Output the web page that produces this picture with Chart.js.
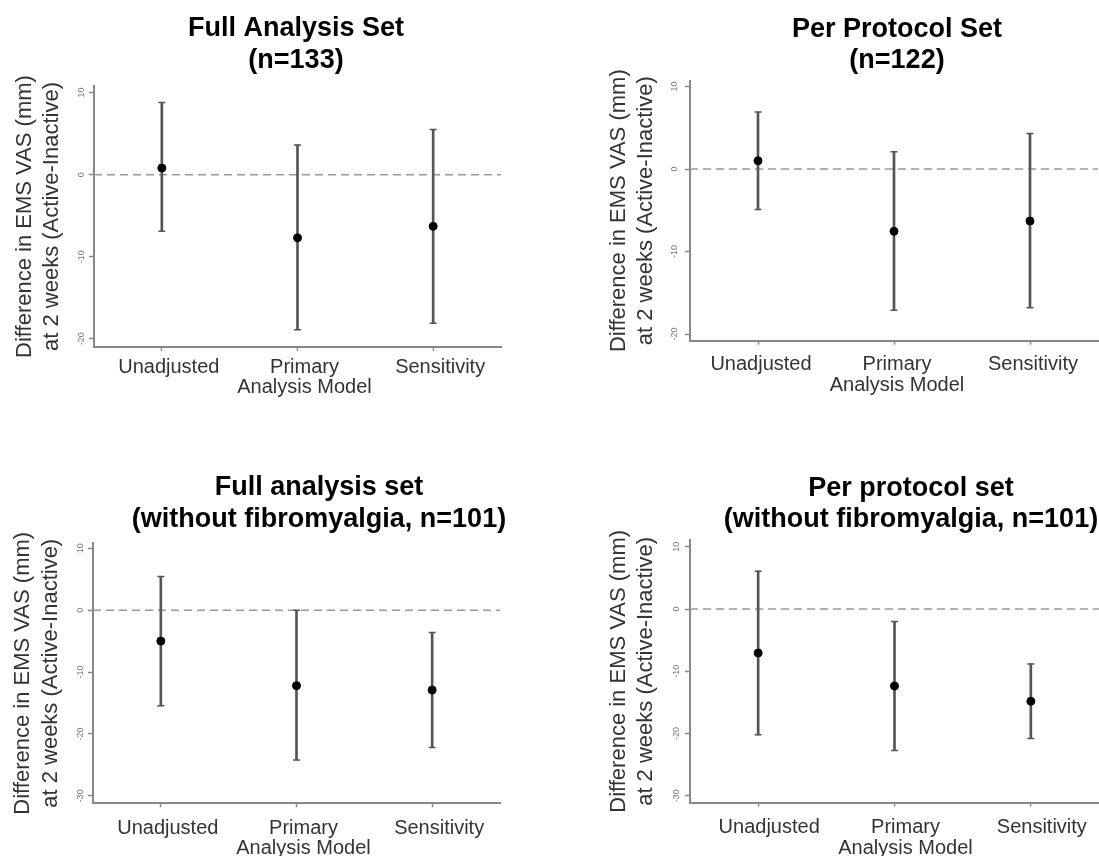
<!DOCTYPE html>
<html>
<head>
<meta charset="utf-8">
<script src="https://cdn.jsdelivr.net/npm/chart.js@4.4.1/dist/chart.umd.min.js"></script>
<style>
html, body { margin: 0; padding: 0; background: #fff; overflow: hidden; width: 1099px; height: 856px; position: relative; }
canvas { position: absolute; }
</style>
</head>
<body>
<canvas id="c1"></canvas>
<canvas id="c2"></canvas>
<canvas id="c3"></canvas>
<canvas id="c4"></canvas>
<script>
// ---------- data ----------
const categories = ['Unadjusted', ['Primary', 'Analysis Model'], 'Sensitivity'];
const yAxisTitle = ['Difference in EMS VAS (mm)', 'at 2 weeks (Active-Inactive)'];

const titleFas = ['Full Analysis Set', '(n=133)'];
const titlePps = ['Per Protocol Set', '(n=122)'];
const titleFasNoFm = ['Full analysis set', '(without fibromyalgia, n=101)'];
const titlePpsNoFm = ['Per protocol set', '(without fibromyalgia, n=101)'];

const fasEstimate = [0.8, -7.7, -6.3];
const fasLower    = [-6.9, -18.9, -18.1];
const fasUpper    = [8.8, 3.6, 5.5];

const ppsEstimate = [1.0, -7.55, -6.3];
const ppsLower    = [-4.9, -17.1, -16.8];
const ppsUpper    = [6.9, 2.1, 4.3];

const fasNoFmEstimate = [-5.0, -12.2, -12.9];
const fasNoFmLower    = [-15.45, -24.2, -22.2];
const fasNoFmUpper    = [5.45, 0.0, -3.6];

const ppsNoFmEstimate = [-7.05, -12.35, -14.8];
const ppsNoFmLower    = [-20.2, -22.7, -20.8];
const ppsNoFmUpper    = [6.1, -2.0, -8.8];

const yStep = 10;

// ---------- styling / layout ----------
const FONT = '"Liberation Sans", Arial, sans-serif';

const zeroLine = {
  id: 'zeroLine',
  beforeDatasetsDraw(chart) {
    const { ctx, chartArea, scales: { y } } = chart;
    const py = y.getPixelForValue(0);
    ctx.save();
    ctx.strokeStyle = '#9a9a9a';
    ctx.lineWidth = 1.5;
    ctx.setLineDash([8, 5]);
    ctx.beginPath();
    ctx.moveTo(chartArea.left, py);
    ctx.lineTo(chartArea.right, py);
    ctx.stroke();
    ctx.restore();
  }
};

const rotatedYTicks = {
  id: 'rotatedYTicks',
  afterDraw(chart, args, opts) {
    const { ctx, scales: { y } } = chart;
    ctx.save();
    ctx.fillStyle = '#777';
    ctx.font = '9px ' + FONT;
    ctx.textAlign = 'center';
    ctx.textBaseline = 'middle';
    y.ticks.forEach(t => {
      const py = y.getPixelForValue(t.value);
      ctx.save();
      ctx.translate(y.right - opts.offset, py);
      ctx.rotate(-Math.PI / 2);
      ctx.fillText(String(t.value), 0, 0);
      ctx.restore();
    });
    ctx.restore();
  }
};

function makePanel(id, title, est, lo, hi, p) {
  const cv = document.getElementById(id);
  cv.width = p.W; cv.height = p.H;
  cv.style.left = p.L + 'px'; cv.style.top = p.T + 'px';
  cv.style.width = p.W + 'px'; cv.style.height = p.H + 'px';
  const ranges = lo.map((v, i) => [v, hi[i]]);
  return new Chart(cv, {
    type: 'bar',
    data: {
      labels: categories,
      datasets: [
        { type: 'line', data: est, showLine: false, pointStyle: 'circle', pointRadius: 4,
          pointBackgroundColor: '#000', pointBorderColor: '#000', pointBorderWidth: 1,
          xAxisID: 'x', yAxisID: 'y', order: 0 },
        { type: 'line', data: hi, showLine: false, pointStyle: 'line', pointRadius: 3.5,
          pointBorderColor: '#555', pointBorderWidth: 1.5, xAxisID: 'x', yAxisID: 'y', order: 1 },
        { type: 'line', data: lo, showLine: false, pointStyle: 'line', pointRadius: 3.5,
          pointBorderColor: '#555', pointBorderWidth: 1.5, xAxisID: 'x', yAxisID: 'y', order: 2 },
        { type: 'bar', data: ranges, backgroundColor: '#555', borderWidth: 0, barThickness: 2,
          xAxisID: 'x', yAxisID: 'y', order: 3 }
      ]
    },
    options: {
      responsive: false,
      animation: false,
      events: [],
      layout: { padding: 0 },
      plugins: {
        legend: { display: false },
        tooltip: { enabled: false },
        title: {
          display: true, text: title, color: '#000',
          font: { family: FONT, size: 27, weight: 'bold', lineHeight: 1.15 },
          padding: { top: p.tPadTop, bottom: p.tPadBottom }
        },
        rotatedYTicks: { offset: p.tickOff }
      },
      scales: {
        x: {
          type: 'category', offset: true,
          grid: { display: true, drawOnChartArea: false, drawTicks: true, tickLength: 4,
                  tickWidth: 1.5, tickColor: '#888', offset: false },
          border: { display: true, color: '#888', width: 2 },
          ticks: { color: '#333', font: { family: FONT, size: 20, lineHeight: 1.03 },
                   padding: p.xPad, labelOffset: p.labelOff, maxRotation: 0, minRotation: 0, autoSkip: false },
          afterFit(s) { s.height = p.xH; }
        },
        y: {
          type: 'linear', position: 'left', min: p.yMin, max: p.yMax,
          ticks: { display: false, stepSize: yStep, includeBounds: false },
          grid: { drawOnChartArea: false, drawTicks: true, tickLength: 5, tickWidth: 1.5, tickColor: '#888' },
          border: { display: true, color: '#888', width: 2 },
          title: { display: true, text: yAxisTitle, color: '#333',
                   font: { family: FONT, size: 22, lineHeight: 1.25 },
                   padding: { top: p.yTitlePad, bottom: 0 } },
          afterFit(s) { s.width = p.yW; }
        },
        yPad: {
          type: 'linear', position: 'right', display: true,
          grid: { display: false }, ticks: { display: false }, border: { display: false },
          afterFit(s) { s.width = p.rightW; }
        }
      }
    },
    plugins: [zeroLine, rotatedYTicks]
  });
}

makePanel('c1', titleFas, fasEstimate, fasLower, fasUpper,
  { L: 0, T: 0, W: 592, H: 430, yW: 94, rightW: 91, xH: 83, tPadTop: 13.5, tPadBottom: 10.4,
    yMin: -21.0, yMax: 10.8, xPad: 6, labelOff: 7, yTitlePad: 11, tickOff: 12 });

makePanel('c2', titlePps, ppsEstimate, ppsLower, ppsUpper,
  { L: 594, T: 0, W: 606, H: 430, yW: 96, rightW: 102, xH: 89.3, tPadTop: 13.8, tPadBottom: 4.8,
    yMin: -20.8, yMax: 10.7, xPad: 9.8, labelOff: 3, yTitlePad: 10.75, tickOff: 15 });

makePanel('c3', titleFasNoFm, fasNoFmEstimate, fasNoFmLower, fasNoFmUpper,
  { L: 0, T: 440, W: 638, H: 416, yW: 93, rightW: 138, xH: 52.7, tPadTop: 32.5, tPadBottom: 8.7,
    yMin: -31.2, yMax: 10.8, xPad: 10.4, labelOff: 7, yTitlePad: 9.5, tickOff: 12 });

makePanel('c4', titlePpsNoFm, ppsNoFmEstimate, ppsNoFmLower, ppsNoFmUpper,
  { L: 594, T: 440, W: 634, H: 416, yW: 96, rightW: 129, xH: 53.3, tPadTop: 33, tPadBottom: 4.9,
    yMin: -31.1, yMax: 11.1, xPad: 10.8, labelOff: 11, yTitlePad: 10.75, tickOff: 13 });
</script>
</body>
</html>
